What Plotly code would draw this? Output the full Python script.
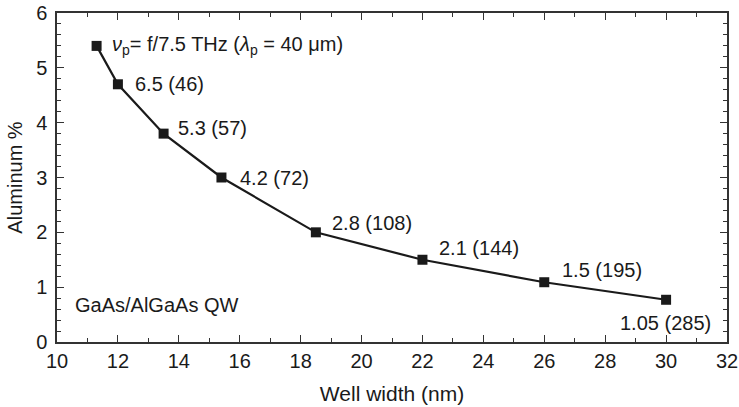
import plotly.graph_objects as go

# Well width (nm) vs aluminium fraction (%)
well_width = [11.3, 12.0, 13.5, 15.4, 18.5, 22.0, 26.0, 30.0]
aluminum = [5.40, 4.70, 3.80, 3.00, 2.00, 1.50, 1.09, 0.77]
point_labels = [
    "<i>ν</i><sub>p</sub>= f/7.5 THz (<i>λ</i><sub>p</sub> = 40 μm)",
    "6.5 (46)",
    "5.3 (57)",
    "4.2 (72)",
    "2.8 (108)",
    "2.1 (144)",
    "1.5 (195)",
    "1.05 (285)",
]

FONT = "Liberation Sans, Arial, Helvetica, sans-serif"
INK = "#1a1a1a"

fig = go.Figure()
fig.add_trace(go.Scatter(
    x=well_width, y=aluminum,
    mode="lines+markers",
    line=dict(color=INK, width=2.2),
    marker=dict(symbol="square", size=10, color=INK),
    showlegend=False,
))

# Per-point value labels: pixel offsets from each marker
offsets = [(13, 0), (15, 0), (12, 6), (17, 0), (14, 9), (15, 12), (16, 12), (47, -23)]
for i, (x, y) in enumerate(zip(well_width, aluminum)):
    dx, dy = offsets[i]
    last = i == len(well_width) - 1
    fig.add_annotation(
        x=x, y=y, text=point_labels[i], showarrow=False,
        xanchor="right" if last else "left", yanchor="middle",
        xshift=dx, yshift=dy,
        font=dict(family=FONT, size=20, color=INK),
    )

fig.add_annotation(
    x=10.52, y=0.68, text="GaAs/AlGaAs QW", showarrow=False,
    xanchor="left", yanchor="middle",
    font=dict(family=FONT, size=20, color=INK),
)

axis_common = dict(
    showline=True, linecolor="#333333", linewidth=1.5, mirror="ticks",
    ticks="inside", ticklen=7, tickwidth=1.2, tickcolor="#333333",
    showgrid=False, zeroline=False, automargin=False,
    tickfont=dict(family=FONT, size=20, color=INK),
)

fig.update_xaxes(
    range=[10, 32], dtick=2, tick0=10,
    minor=dict(dtick=1, ticks="inside", ticklen=4, tickcolor="#333333", tickwidth=1),
    title=dict(text="Well width (nm)", font=dict(family=FONT, size=21, color=INK), standoff=16),
    **axis_common,
)
fig.update_yaxes(
    range=[0, 6], dtick=1, tick0=0,
    minor=dict(dtick=0.2, ticks="inside", ticklen=4, tickcolor="#333333", tickwidth=1),
    title=dict(text="Aluminum %", font=dict(family=FONT, size=20, color=INK), standoff=8),
    ticklabelstandoff=4,
    **axis_common,
)

fig.update_layout(
    width=739, height=407,
    margin=dict(l=57, r=12, t=13, b=65),
    plot_bgcolor="white", paper_bgcolor="white",
)

fig.write_html("out.html")
